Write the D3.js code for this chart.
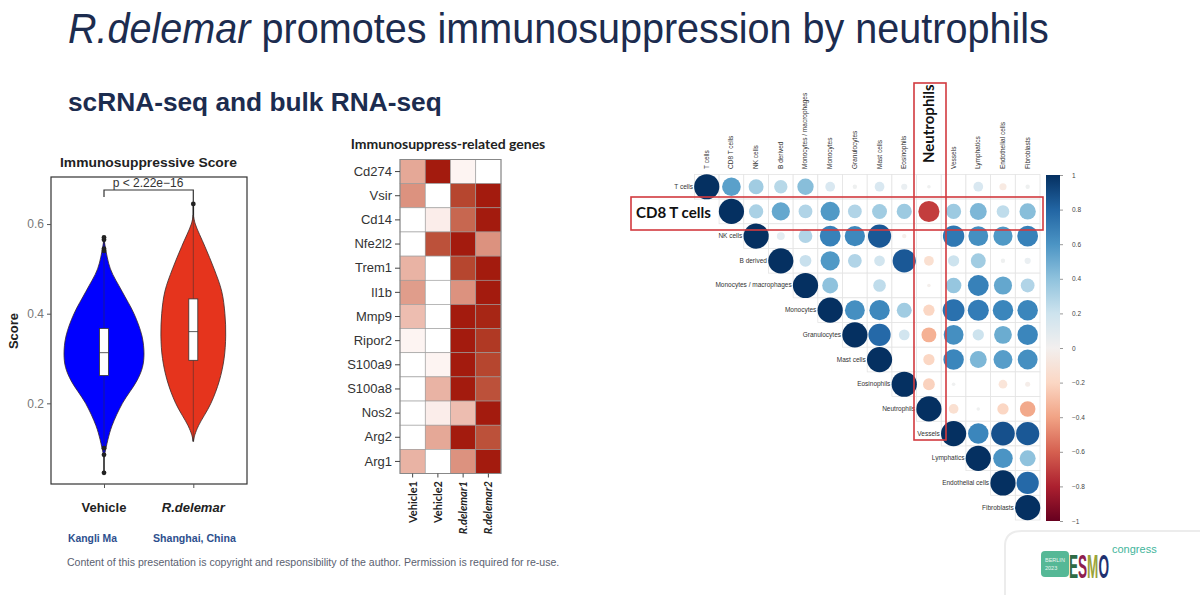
<!DOCTYPE html>
<html>
<head>
<meta charset="utf-8">
<script src="https://cdnjs.cloudflare.com/ajax/libs/d3/7.8.5/d3.min.js"></script>
<style>
  body { margin: 0; background: #ffffff; }
  svg { display: block; }
</style>
</head>
<body>
<div id="chart"></div>
<script>
// ---- violin data ----
var groups = ["Vehicle", "R.delemar"];
var scoreTicks = [0.2, 0.4, 0.6];
// [score, relative half width]
var vehicleDensity = [[0.08,0],[0.10,0.05],[0.12,0.1],[0.15,0.2],[0.20,0.46],[0.25,0.82],[0.28,0.96],[0.31,1],[0.35,0.95],[0.40,0.75],[0.45,0.45],[0.50,0.16],[0.55,0.03],[0.57,0]];
var delemarDensity = [[0.115,0],[0.13,0.04],[0.15,0.13],[0.20,0.44],[0.25,0.65],[0.30,0.77],[0.35,0.81],[0.40,0.79],[0.45,0.71],[0.50,0.52],[0.55,0.29],[0.60,0.05],[0.62,0]];
var vehicleBox = [0.262, 0.313, 0.367];
var delemarBox = [0.296, 0.36, 0.433];
var vehicleWhisker = [0.045, 0.57];
var delemarWhisker = [0.115, 0.645];
var vehicleOutliers = [0.045, 0.085, 0.10, 0.54, 0.545, 0.565, 0.57];
var delemarOutliers = [0.645];

// ---- heatmap data ----
var genes = ["Cd274","Vsir","Cd14","Nfe2l2","Trem1","Il1b","Mmp9","Ripor2","S100a9","S100a8","Nos2","Arg2","Arg1"];
var samples = ["Vehicle1","Vehicle2","R.delemar1","R.delemar2"];
var expression = [
  [0.40, 1.00, 0.05, 0.00],
  [0.50, 0.00, 0.85, 1.00],
  [0.00, 0.08, 0.70, 1.00],
  [0.00, 0.80, 1.00, 0.50],
  [0.35, 0.00, 0.85, 1.00],
  [0.45, 0.00, 0.50, 1.00],
  [0.30, 0.00, 1.00, 0.97],
  [0.05, 0.00, 1.00, 0.90],
  [0.00, 0.05, 1.00, 0.85],
  [0.00, 0.35, 1.00, 0.80],
  [0.00, 0.08, 0.30, 1.00],
  [0.00, 0.40, 1.00, 0.80],
  [0.35, 0.00, 0.50, 1.00]
];

// ---- correlation data (upper triangle, row i starts at column i) ----
var cellTypes = ["T cells","CD8 T cells","NK cells","B derived","Monocytes / macrophages","Monocytes","Granulocytes","Mast cells","Eosinophils","Neutrophils","Vessels","Lymphatics","Endothelial cells","Fibroblasts"];
var corrUpper = [
  [1, 0.55, 0.35, 0.28, 0.42, 0.15, 0.03, 0.15, 0.06, 0.02, 0.0, 0.15, -0.08, 0.03],
  [1, 0.32, 0.52, 0.30, 0.58, 0.30, 0.35, 0.36, -0.70, 0.36, 0.45, 0.25, 0.42],
  [1, 0.10, 0.30, 0.68, 0.65, 0.85, -0.03, 0.0, 0.72, 0.62, 0.58, 0.68],
  [1, 0.22, 0.58, 0.30, 0.18, 0.85, -0.15, 0.20, 0.35, 0.03, 0.06],
  [1, 0.40, 0.0, 0.25, 0.0, -0.02, 0.38, 0.68, 0.52, 0.30],
  [1, 0.62, 0.65, 0.35, -0.20, 0.75, 0.70, 0.66, 0.66],
  [1, 0.78, 0.18, -0.35, 0.62, 0.20, 0.50, 0.66],
  [1, 0.0, -0.20, 0.66, 0.45, 0.56, 0.62],
  [1, -0.22, 0.02, 0.0, -0.12, -0.04],
  [1, -0.15, 0.02, -0.20, -0.38],
  [1, 0.66, 0.88, 0.85],
  [1, 0.60, 0.40],
  [1, 0.78],
  [1]
];
var colorbarTicks = [1, 0.8, 0.6, 0.4, 0.2, 0, -0.2, -0.4, -0.6, -0.8, -1];

var width = 1200;
var height = 595;
var navy = "#1c2c4f";

var svg = d3.select("#chart").append("svg")
  .attr("width", width)
  .attr("height", height)
  .style("font-family", "'Liberation Sans', Arial, sans-serif");

svg.append("rect").attr("width", width).attr("height", height).attr("fill", "#ffffff");

// squeeze a start-anchored text horizontally to a given width
function squeeze(sel, x, targetW) {
  var w = sel.node().getComputedTextLength();
  sel.attr("transform", "translate(" + x + ",0) scale(" + (targetW / w) + ",1) translate(" + (-x) + ",0)");
}

// ---- slide header ----
var title = svg.append("text")
  .attr("x", 68).attr("y", 43)
  .attr("font-size", 42)
  .attr("fill", navy);
title.append("tspan").attr("font-style", "italic").text("R.delemar");
title.append("tspan").text(" promotes immunosuppression by neutrophils");
squeeze(title, 68, 981);

var sub = svg.append("text")
  .attr("x", 68).attr("y", 111)
  .attr("font-size", 26)
  .attr("font-weight", "bold")
  .attr("fill", navy)
  .text("scRNA-seq and bulk RNA-seq");
squeeze(sub, 68, 374);

// ---- violin plot ----
var yScore = d3.scaleLinear().domain([0.02, 0.705]).range([484, 177]);
var xGroup = d3.scalePoint().domain(groups).range([104, 193.3]);
var halfW = d3.scaleLinear().domain([0, 1]).range([0, 40]);

var vt = svg.append("text")
  .attr("x", 60).attr("y", 167)
  .attr("font-size", 13).attr("font-weight", "bold").attr("fill", "#222")
  .text("Immunosuppressive Score");
squeeze(vt, 60, 177);

var violins = [
  { name: "Vehicle", dens: vehicleDensity, box: vehicleBox, wh: vehicleWhisker, out: vehicleOutliers, fill: "#0000ff" },
  { name: "R.delemar", dens: delemarDensity, box: delemarBox, wh: delemarWhisker, out: delemarOutliers, fill: "#e5341d" }
];

violins.forEach(function(v) {
  var cx = xGroup(v.name);
  var area = d3.area()
    .curve(d3.curveCatmullRom)
    .y(function(d) { return yScore(d[0]); })
    .x0(function(d) { return cx - halfW(d[1]); })
    .x1(function(d) { return cx + halfW(d[1]); });

  svg.append("line")
    .attr("x1", cx).attr("x2", cx)
    .attr("y1", yScore(v.wh[0])).attr("y2", yScore(v.wh[1]))
    .attr("stroke", "#222").attr("stroke-width", 1.6);

  svg.append("path")
    .datum(v.dens)
    .attr("d", area)
    .attr("fill", v.fill)
    .attr("stroke", "#3a2a2a")
    .attr("stroke-width", 0.8);

  svg.append("line")
    .attr("x1", cx).attr("x2", cx)
    .attr("y1", yScore(v.dens[0][0])).attr("y2", yScore(v.dens[v.dens.length - 1][0]))
    .attr("stroke", "#333").attr("stroke-width", 1).attr("opacity", 0.5);

  svg.selectAll(null)
    .data(v.out)
    .enter().append("circle")
    .attr("cx", cx)
    .attr("cy", function(d) { return yScore(d); })
    .attr("r", 2.4)
    .attr("fill", "#222");

  svg.append("rect")
    .attr("x", cx - 4.5).attr("width", 9)
    .attr("y", yScore(v.box[2]))
    .attr("height", yScore(v.box[0]) - yScore(v.box[2]))
    .attr("fill", "#ffffff").attr("stroke", "#333").attr("stroke-width", 0.8);

  svg.append("line")
    .attr("x1", cx - 4.5).attr("x2", cx + 4.5)
    .attr("y1", yScore(v.box[1])).attr("y2", yScore(v.box[1]))
    .attr("stroke", "#333").attr("stroke-width", 0.8);
});

svg.append("rect")
  .attr("x", 51).attr("y", 177)
  .attr("width", 196).attr("height", 307)
  .attr("fill", "none").attr("stroke", "#333").attr("stroke-width", 1.2);

svg.append("g")
  .attr("transform", "translate(51,0)")
  .call(d3.axisLeft(yScore).tickValues(scoreTicks).tickSize(4).tickFormat(d3.format(".1f")))
  .call(function(g) { g.select(".domain").remove(); })
  .call(function(g) {
    g.selectAll("line").attr("stroke", "#555");
    g.selectAll("text").attr("fill", "#777").attr("font-size", 12)
      .attr("font-family", "'Liberation Sans', Arial, sans-serif");
  });

svg.append("g")
  .attr("transform", "translate(0,484)")
  .call(d3.axisBottom(xGroup).tickSize(4).tickFormat(""))
  .call(function(g) { g.select(".domain").remove(); })
  .call(function(g) { g.selectAll("line").attr("stroke", "#555"); });

svg.selectAll(null)
  .data(groups)
  .enter().append("text")
  .attr("x", function(d) { return xGroup(d); })
  .attr("y", 512)
  .attr("text-anchor", "middle")
  .attr("font-size", 13).attr("font-weight", "bold")
  .attr("font-style", function(d) { return d == "R.delemar" ? "italic" : "normal"; })
  .attr("fill", "#222")
  .text(function(d) { return d; });

svg.append("text")
  .attr("transform", "translate(18,331) rotate(-90)")
  .attr("text-anchor", "middle")
  .attr("font-size", 13).attr("font-weight", "bold").attr("fill", "#222")
  .text("Score");

// p-value bracket
svg.append("path")
  .attr("d", "M" + xGroup("Vehicle") + ",197V190H" + xGroup("R.delemar") + "V202")
  .attr("fill", "none").attr("stroke", "#333").attr("stroke-width", 1.2);
svg.append("text")
  .attr("x", 148).attr("y", 187)
  .attr("text-anchor", "middle")
  .attr("font-size", 12).attr("fill", "#333")
  .text("p < 2.22e\u221216");

// ---- heatmap ----
var xSample = d3.scaleBand().domain(samples).range([400, 501]);
var yGene = d3.scaleBand().domain(genes).range([159.5, 473.5]);
var heat = d3.scaleLinear().domain([0, 1]).range(["#ffffff", "#a31b0e"]).interpolate(d3.interpolateLab);

svg.append("text")
  .attr("x", 448).attr("y", 149)
  .attr("text-anchor", "middle")
  .attr("font-family", "Lato, 'Open Sans', sans-serif")
  .attr("font-size", 14).attr("font-weight", "bold").attr("fill", "#222")
  .text("Immunosuppress-related genes");

var cells = [];
genes.forEach(function(g, i) {
  samples.forEach(function(s, j) {
    cells.push({ gene: g, sample: s, value: expression[i][j] });
  });
});

svg.selectAll(".hcell")
  .data(cells)
  .enter().append("rect")
  .attr("class", "hcell")
  .attr("x", function(d) { return xSample(d.sample); })
  .attr("y", function(d) { return yGene(d.gene); })
  .attr("width", xSample.bandwidth())
  .attr("height", yGene.bandwidth())
  .attr("fill", function(d) { return heat(d.value); })
  .attr("stroke", "#9a9a9a")
  .attr("stroke-width", 0.6);

svg.append("rect")
  .attr("x", 400).attr("y", 159.5)
  .attr("width", 101).attr("height", 314)
  .attr("fill", "none").attr("stroke", "#888").attr("stroke-width", 1);

svg.append("g")
  .attr("transform", "translate(400,0)")
  .call(d3.axisLeft(yGene).tickSize(5).tickPadding(3))
  .call(function(g) { g.select(".domain").remove(); })
  .call(function(g) {
    g.selectAll("line").attr("stroke", "#444");
    g.selectAll("text").attr("fill", "#333").attr("font-size", 13)
      .attr("font-family", "'Liberation Sans', Arial, sans-serif");
  });

svg.append("g")
  .attr("transform", "translate(0,473.5)")
  .call(d3.axisBottom(xSample).tickSize(4).tickFormat(""))
  .call(function(g) { g.select(".domain").remove(); })
  .call(function(g) { g.selectAll("line").attr("stroke", "#444"); });

svg.selectAll(".slab")
  .data(samples)
  .enter().append("text")
  .attr("class", "slab")
  .attr("transform", function(d) {
    return "translate(" + (xSample(d) + xSample.bandwidth() / 2 + 4) + ",481) rotate(-90)";
  })
  .attr("text-anchor", "end")
  .attr("font-family", "Lato, 'Open Sans', sans-serif")
  .attr("font-size", 11).attr("font-weight", "bold").attr("fill", "#222")
  .attr("font-style", function(d) { return d.indexOf("R.") == 0 ? "italic" : "normal"; })
  .text(function(d) { return d; });

// ---- correlation plot ----
var xCell = d3.scaleBand().domain(cellTypes).range([694.4, 1040]);
var yCell = d3.scaleBand().domain(cellTypes).range([174.4, 520]);
var step = xCell.bandwidth();
var radius = d3.scaleSqrt().domain([0, 1]).range([0, 12.6]);
var corrColor = function(v) { return d3.interpolateRdBu((v + 1) / 2); };

var corrCells = [];
corrUpper.forEach(function(row, i) {
  row.forEach(function(v, k) {
    corrCells.push({ row: cellTypes[i], col: cellTypes[i + k], value: v });
  });
});

svg.selectAll(".cgrid")
  .data(corrCells)
  .enter().append("rect")
  .attr("class", "cgrid")
  .attr("x", function(d) { return xCell(d.col); })
  .attr("y", function(d) { return yCell(d.row); })
  .attr("width", step).attr("height", step)
  .attr("fill", "#ffffff")
  .attr("stroke", "#e4e4e4").attr("stroke-width", 0.8);

svg.selectAll(".ccirc")
  .data(corrCells)
  .enter().append("circle")
  .attr("class", "ccirc")
  .attr("cx", function(d) { return xCell(d.col) + step / 2; })
  .attr("cy", function(d) { return yCell(d.row) + step / 2; })
  .attr("r", function(d) { return radius(Math.abs(d.value)); })
  .attr("fill", function(d) { return corrColor(d.value); });

// row labels (CD8 T cells drawn large separately)
svg.selectAll(".rlab")
  .data(cellTypes.filter(function(d) { return d != "CD8 T cells"; }))
  .enter().append("text")
  .attr("class", "rlab")
  .attr("x", function(d) { return xCell(d) - 1.5; })
  .attr("y", function(d) { return yCell(d) + step / 2 + 2; })
  .attr("text-anchor", "end")
  .attr("font-size", 6.5).attr("fill", "#333")
  .text(function(d) { return d; });

// column labels (Neutrophils drawn large separately)
svg.selectAll(".clab")
  .data(cellTypes.filter(function(d) { return d != "Neutrophils"; }))
  .enter().append("text")
  .attr("class", "clab")
  .attr("transform", function(d) {
    return "translate(" + (xCell(d) + step / 2 + 2) + ",169) rotate(-90)";
  })
  .attr("font-size", 6.5).attr("fill", "#333")
  .text(function(d) { return d; });

var cd8 = svg.append("text")
  .attr("x", 636).attr("y", 218)
  .attr("font-family", "Lato, 'Open Sans', sans-serif")
  .attr("font-size", 15).attr("font-weight", "bold").attr("fill", "#111")
  .text("CD8 T cells");
squeeze(cd8, 636, 75);

svg.append("text")
  .attr("transform", "translate(" + (xCell("Neutrophils") + step / 2 + 5) + ",163) rotate(-90)")
  .attr("font-family", "Lato, 'Open Sans', sans-serif")
  .attr("font-size", 15).attr("font-weight", "bold").attr("fill", "#111")
  .text("Neutrophils");

// highlight boxes
svg.append("rect")
  .attr("x", 631).attr("y", 197)
  .attr("width", 412).attr("height", 33)
  .attr("fill", "none").attr("stroke", "#d23a3f").attr("stroke-width", 1.6);
svg.append("rect")
  .attr("x", 914).attr("y", 83)
  .attr("width", 32).attr("height", 357)
  .attr("fill", "none").attr("stroke", "#d23a3f").attr("stroke-width", 1.6);

// colorbar
var yBar = d3.scaleLinear().domain([-1, 1]).range([521, 175]);
var grad = svg.append("defs").append("linearGradient")
  .attr("id", "rdbu").attr("x1", 0).attr("x2", 0).attr("y1", 1).attr("y2", 0);
colorbarTicks.slice().reverse().forEach(function(t) {
  grad.append("stop")
    .attr("offset", ((t + 1) / 2 * 100) + "%")
    .attr("stop-color", corrColor(t));
});
svg.append("rect")
  .attr("x", 1046).attr("y", 175)
  .attr("width", 14).attr("height", 346)
  .attr("fill", "url(#rdbu)");

svg.append("g")
  .attr("transform", "translate(1060,0)")
  .call(d3.axisRight(yBar).tickValues(colorbarTicks).tickSize(3).tickPadding(9)
    .tickFormat(function(d) { return d3.format("")(Math.round(d * 10) / 10); }))
  .call(function(g) { g.select(".domain").remove(); })
  .call(function(g) {
    g.selectAll("line").attr("stroke", "#999");
    g.selectAll("text").attr("fill", "#444").attr("font-size", 6.5)
      .attr("font-family", "'Liberation Sans', Arial, sans-serif");
  });

// ---- footer ----
var k1 = svg.append("text")
  .attr("x", 68).attr("y", 542)
  .attr("font-size", 11).attr("font-weight", "bold").attr("fill", "#2d4f8e")
  .text("Kangli Ma");
squeeze(k1, 68, 49);
var k2 = svg.append("text")
  .attr("x", 153).attr("y", 542)
  .attr("font-size", 11).attr("font-weight", "bold").attr("fill", "#2d4f8e")
  .text("Shanghai, China");
squeeze(k2, 153, 83);

var copy = svg.append("text")
  .attr("x", 67).attr("y", 566)
  .attr("font-size", 11).attr("fill", "#5a6170")
  .text("Content of this presentation is copyright and responsibility of the author. Permission is required for re-use.");
squeeze(copy, 67, 493);

// ESMO tab
svg.append("path")
  .attr("d", "M1005,595 V546 Q1005,531 1022,531 H1200")
  .attr("fill", "none").attr("stroke", "#ececec").attr("stroke-width", 2);
svg.append("rect")
  .attr("x", 1041).attr("y", 551).attr("width", 28).attr("height", 26).attr("rx", 4)
  .attr("fill", "#55b896");
svg.append("text").attr("x", 1045).attr("y", 562).attr("font-size", 5.5).attr("fill", "#e8f5ef").text("BERLIN");
svg.append("text").attr("x", 1045).attr("y", 570).attr("font-size", 5.5).attr("fill", "#e8f5ef").text("2023");
var esmo = [["E", "#2e6b45"], ["S", "#8e1f4f"], ["M", "#9aa33a"], ["O", "#1f3170"]];
var logo = svg.append("text")
  .attr("x", 1069).attr("y", 578)
  .attr("font-size", 33).attr("font-weight", "bold");
esmo.forEach(function(l) {
  logo.append("tspan").attr("fill", l[1]).text(l[0]);
});
squeeze(logo, 1069, 40);
svg.append("text")
  .attr("x", 1112).attr("y", 553)
  .attr("font-size", 11).attr("fill", "#3fb59b")
  .text("congress");
</script>
</body>
</html>
